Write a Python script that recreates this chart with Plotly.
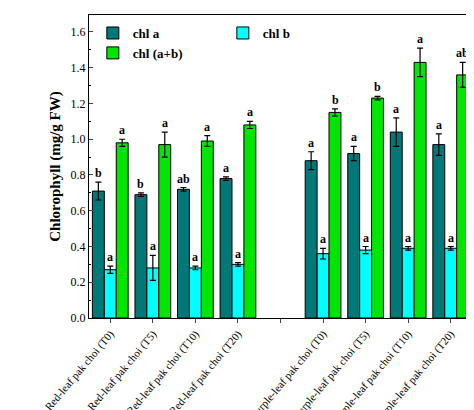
import plotly.graph_objects as go

cats = ["Red-leaf pak choi (T0)", "Red-leaf pak choi (T5)", "Red-leaf pak choi (T10)", "Red-leaf pak choi (T20)", " ",
        "Purple-leaf pak choi (T0)", "Purple-leaf pak choi (T5)", "Purple-leaf pak choi (T10)", "Purple-leaf pak choi (T20)"]
chla = [0.71, 0.69, 0.72, 0.78, None, 0.88, 0.92, 1.04, 0.97]
chla_err = [0.05, 0.01, 0.01, 0.01, None, 0.05, 0.04, 0.08, 0.06]
chla_let = ["b", "b", "ab", "a", "", "a", "a", "a", "a"]
chlb = [0.27, 0.28, 0.28, 0.30, None, 0.36, 0.38, 0.39, 0.39]
chlb_err = [0.02, 0.07, 0.01, 0.01, None, 0.03, 0.02, 0.01, 0.01]
chlb_let = ["a", "a", "a", "a", "", "a", "a", "a", "a"]
chlab = [0.98, 0.97, 0.99, 1.08, None, 1.15, 1.23, 1.43, 1.36]
chlab_err = [0.02, 0.07, 0.03, 0.02, None, 0.02, 0.01, 0.08, 0.07]
chlab_let = ["a", "a", "a", "a", "", "b", "b", "a", "ab"]

font = "Liberation Serif"
fig = go.Figure()
series = [("chl a", chla, chla_err, chla_let, "#007878", -12),
          ("chl b", chlb, chlb_err, chlb_let, "#00FFFF", 0),
          ("chl (a+b)", chlab, chlab_err, chlab_let, "#00E600", 12)]
for name, v, e, let, col, sh in series:
    fig.add_trace(go.Bar(x=cats, y=v, name="<b>%s</b>" % name,
                         marker=dict(color=col, line=dict(color="black", width=1)),
                         error_y=dict(type="data", array=e, color="black", thickness=1.2, width=3)))
    for c, val, er, l in zip(cats, v, e, let):
        if val is None:
            continue
        fig.add_annotation(x=c, y=val + er, text="<b>%s</b>" % l, showarrow=False, xshift=sh,
                           yanchor="bottom", font=dict(family=font, size=12, color="black"))

fig.update_layout(
    width=474, height=410, margin=dict(l=81, r=10, t=7, b=100),
    plot_bgcolor="white", paper_bgcolor="white", barmode="group", bargap=0.16, bargroupgap=0,
    font=dict(family=font, color="black", size=11),
    legend=dict(orientation="h", x=0.01, y=0.99, xanchor="left", yanchor="top",
                font=dict(family=font, size=13, color="black"), bgcolor="rgba(0,0,0,0)",
                itemwidth=30, entrywidth=85, traceorder="normal"),
)
fig.update_xaxes(showline=True, linecolor="black", linewidth=1.2, mirror=True, ticks="outside", ticklen=4,
                 tickangle=-50, tickfont=dict(family=font, size=11), categoryorder="array",
                 categoryarray=cats, automargin=False)
fig.update_yaxes(range=[0, 1.695], dtick=0.2, tickformat=".1f", showline=True, linecolor="black", linewidth=1.2,
                 mirror=True, ticks="inside", ticklen=4, showgrid=False, zeroline=False, automargin=False,
                 minor=dict(dtick=0.1, ticks="inside", ticklen=2, tickcolor="black"),
                 title=dict(text="<b>Chlorophyll (mg/g FW)</b>", font=dict(family=font, size=15), standoff=6),
                 tickfont=dict(family=font, size=12))
fig.write_html("out.html")
